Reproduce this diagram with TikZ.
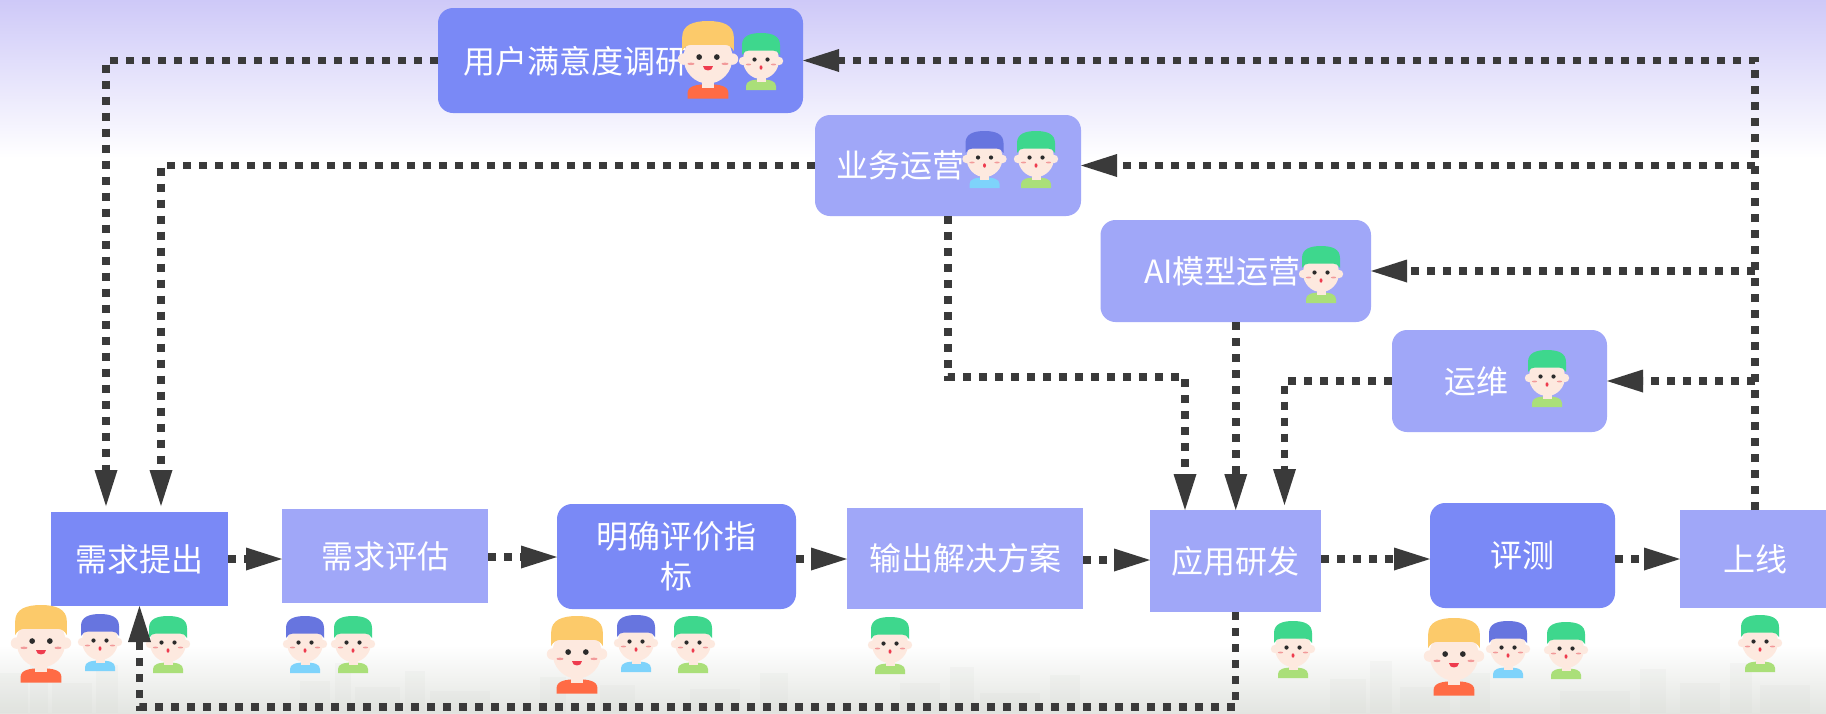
\documentclass[tikz,border=0pt]{standalone}
\usepackage{fontspec}
\newfontfamily\cjk{Noto Sans CJK SC}
\usetikzlibrary{arrows.meta}

\definecolor{boxdark}{HTML}{7A89F6}
\definecolor{boxlight}{HTML}{A0A7F8}
\definecolor{linegray}{HTML}{3A3A3A}
\definecolor{skytop}{HTML}{CEC9F8}
\definecolor{skin}{HTML}{FDE9DF}
\definecolor{hairyellow}{HTML}{FCCA6A}
\definecolor{hairblue}{HTML}{6775DF}
\definecolor{hairgreen}{HTML}{3ED78D}
\definecolor{shirtorange}{HTML}{FF6B45}
\definecolor{shirtblue}{HTML}{7ED3FB}
\definecolor{shirtgreen}{HTML}{AADF79}
\definecolor{eyedark}{HTML}{2B2B2B}
\definecolor{blush}{HTML}{F29A9A}
\definecolor{mouthred}{HTML}{EE3B4E}
\definecolor{hazegray}{HTML}{E3E5E1}
\definecolor{citygray}{HTML}{C9CDC6}

% cartoon head and shoulders, origin at the top centre of the hair
\newcommand\kidbody[2]{%
  \fill[#2] (-15,57) -- (-15,53) .. controls (-15,48) and (-9,46.5) .. (0,46.5)
            .. controls (9,46.5) and (15,48) .. (15,53) -- (15,57) -- cycle;
  \fill[skin] (-4.5,40) rectangle (4.5,49);
  \fill[skin] (-18,28) circle (4.2);
  \fill[skin] (18,28) circle (4.2);
  \fill[skin] (0,27) ellipse (18 and 19);
  \fill[#1] (-19,22) -- (-19,12) .. controls (-19,3) and (-11,0) .. (0,0)
            .. controls (11,0) and (19,3) .. (19,12) -- (19,22)
            .. controls (17.5,19) and (15,17.5) .. (12,17.5) -- (-12,17.5)
            .. controls (-15,17.5) and (-17.5,19) .. (-19,22) -- cycle;
  \fill[eyedark] (-6.5,26.5) circle (2.1);
  \fill[eyedark] (6.5,26.5) circle (2.1);
  \fill[blush] (-12.5,31.5) ellipse (2.6 and 0.9);
  \fill[blush] (12.5,31.5) ellipse (2.6 and 0.9);
}

\tikzset{
  pics/kid/.style 2 args={code={%
    \kidbody{#1}{#2}
    \fill[mouthred] (0,34.5) ellipse (1.5 and 2.2);}},
  pics/bigkid/.style={code={%
    \begin{scope}[scale=1.36]
      \kidbody{hairyellow}{shirtorange}
      \fill[mouthred] (-4,33) -- (4,33) .. controls (4,37.5) and (-4,37.5) .. (-4,33) -- cycle;
    \end{scope}}},
  txt/.style={text=white, font=\cjk\fontsize{32}{40}\selectfont, inner sep=0pt, outer sep=0pt, align=center},
  boxd/.style={fill=boxdark, draw=none, inner sep=0pt, outer sep=0pt},
  boxl/.style={fill=boxlight, draw=none, inner sep=0pt, outer sep=0pt},
  boxdr/.style={boxd, rounded corners=15pt},
  boxlr/.style={boxl, rounded corners=15pt},
  flow/.style={draw=linegray, line width=7.5pt, dash pattern=on 8pt off 8pt},
  tip/.style={-{Triangle[length=36pt, width=23pt, line width=0pt, color=linegray]}},
}

\begin{document}
\begin{tikzpicture}[x=1pt, y=-1pt]
\useasboundingbox (0,0) rectangle (1826,713);
\clip (0,0) rectangle (1826,713);

% backdrop: lavender sky at the top, hazy town along the bottom
\fill[white] (0,0) rectangle (1826,713);
\shade[top color=skytop, bottom color=white] (0,0) rectangle (1826,158);
\shade[top color=white, bottom color=hazegray] (0,645) rectangle (1826,713);
\begin{scope}[opacity=0.1]
  \foreach \x/\w/\h in {0/28/40, 30/18/55, 52/40/30, 96/22/48, 300/30/32, 335/16/50, 355/45/26,
                        405/20/42, 430/60/22, 540/26/36, 600/35/28, 690/50/24, 760/28/40,
                        900/40/30, 950/24/46, 980/60/20, 1050/30/38, 1330/36/34, 1370/22/52,
                        1400/50/26, 1460/30/40, 1560/70/22, 1640/26/44, 1680/40/30, 1730/22/50,
                        1760/50/28}
    \fill[citygray] (\x,713) rectangle ++(\w,-\h);
\end{scope}

% process boxes
\node[boxdr, minimum width=365pt, minimum height=105pt] (u) at (620.5,60.5) {};
\node[txt] (ut) at (575,61) {用户满意度调研};
\node[boxlr, minimum width=266pt, minimum height=101pt] (b) at (948,165.5) {};
\node[txt] (bt) at (900.5,165) {业务运营};
\node[boxlr, minimum width=270.5pt, minimum height=102pt] (ai) at (1235.75,271) {};
\node[txt] (ait) at (1222.5,271) {AI模型运营};
\node[boxlr, minimum width=215pt, minimum height=102pt] (yw) at (1499.5,381) {};
\node[txt] (ywt) at (1476,381) {运维};

\node[boxd, txt, minimum width=177pt, minimum height=94pt] (r1) at (139.5,559) {需求提出};
\node[boxl, txt, minimum width=206pt, minimum height=94pt] (r2) at (385,556) {需求评估};
\node[boxdr, txt, minimum width=239pt, minimum height=105pt] (r3) at (676.5,556.5) {明确评价指\\标};
\node[boxl, txt, minimum width=236pt, minimum height=101pt] (r4) at (965,558.5) {输出解决方案};
\node[boxl, txt, minimum width=171pt, minimum height=102pt] (ap) at (1235.5,561) {应用研发};
\node[boxdr, txt, minimum width=185pt, minimum height=105pt] (cp) at (1522.5,555.5) {评测};
\node[boxl, txt, minimum width=150pt, minimum height=98pt] (sx) at (1755,559) {上线};

% team members
\pic at (708,21) {bigkid};
\pic at (761,33) {kid={hairgreen}{shirtgreen}};
\pic at (984.5,131) {kid={hairblue}{shirtblue}};
\pic at (1036,131) {kid={hairgreen}{shirtgreen}};
\pic at (1321,246) {kid={hairgreen}{shirtgreen}};
\pic at (1547,350) {kid={hairgreen}{shirtgreen}};

\pic at (41,605) {bigkid};
\pic at (100,614) {kid={hairblue}{shirtblue}};
\pic at (168,616) {kid={hairgreen}{shirtgreen}};
\pic at (305,616) {kid={hairblue}{shirtblue}};
\pic at (353,616) {kid={hairgreen}{shirtgreen}};
\pic at (577,616) {bigkid};
\pic at (636,615) {kid={hairblue}{shirtblue}};
\pic at (693,616) {kid={hairgreen}{shirtgreen}};
\pic at (890,617) {kid={hairgreen}{shirtgreen}};
\pic at (1293,621) {kid={hairgreen}{shirtgreen}};
\pic at (1454,618) {bigkid};
\pic at (1508,621) {kid={hairblue}{shirtblue}};
\pic at (1566,622) {kid={hairgreen}{shirtgreen}};
\pic at (1760,615) {kid={hairgreen}{shirtgreen}};

% main flow
\draw[flow, tip] (r1.east) -- (r1.east -| r2.west);
\draw[flow, tip] (r2.east |- 0,557) -- (r3.west |- 0,557);
\draw[flow, tip] (r3.east |- 0,559) -- (r4.west |- 0,559);
\draw[flow, tip] (r4.east |- 0,560) -- (ap.west |- 0,560);
\draw[flow, tip] (ap.east |- 0,559) -- (cp.west |- 0,559);
\draw[flow, tip] (cp.east |- 0,559) -- (sx.west |- 0,559);

% feedback from launch back to the operation teams
\draw[flow, tip] (sx.north) |- (u.east);
\draw[flow, tip] (sx.north |- b.east) -- (b.east);
\draw[flow, tip] (sx.north |- ai.east) -- (ai.east);
\draw[flow, tip] (sx.north |- yw.east) -- (yw.east);

% operation teams feed requirements and development
\draw[flow, tip, shorten >=6pt] (u.west) -| ([xshift=-33.5pt]r1.north);
\draw[flow, tip, shorten >=6pt] (b.west) -| ([xshift=21.5pt]r1.north);
\coordinate (dk) at (1185,377);
\draw[flow, tip] (b.south) |- (dk) -- (dk |- ap.north);
\draw[flow, tip] (ai.south) -- (ai.south |- ap.north);
\draw[flow, tip, shorten >=5pt] (yw.west) -| ([xshift=49pt]ap.north);

% development loops back to new requirements
\coordinate (gk) at (1235.5,707);
\draw[flow, tip] (ap.south) -- (gk) -| (r1.south);
\end{tikzpicture}
\end{document}
